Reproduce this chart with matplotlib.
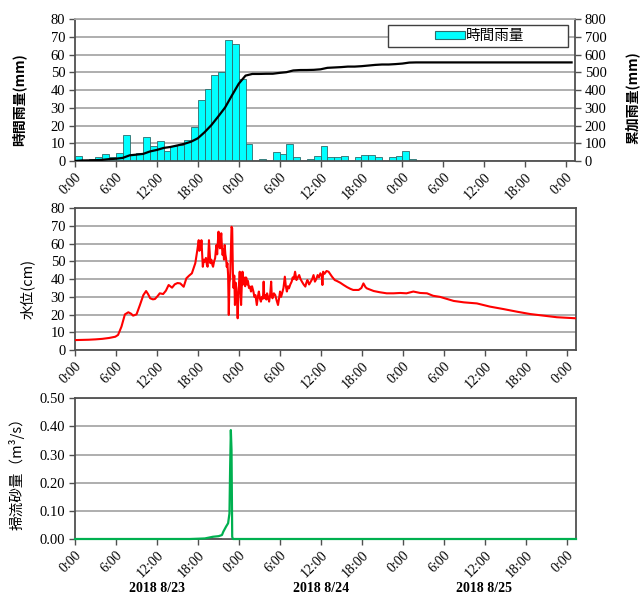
import numpy as np
import matplotlib
matplotlib.use("Agg")
import matplotlib.pyplot as plt
from matplotlib.patches import Rectangle, Patch

# ---- hourly rainfall (mm), one value per hour starting 2018-08-23 0:00 ----
rain_hourly = [3.0, 0.5, 1.0, 2.0, 4.0, 2.5, 4.5, 14.5, 4.0, 4.3,
               13.7, 8.5, 11.3, 5.5, 8.5, 9.0, 11.9, 19.4, 34.4, 40.5,
               48.4, 50.4, 68.1, 66.1, 46.1, 9.4, 0.0, 1.0, 0.2, 4.9,
               3.8, 9.8, 2.3, 0.2, 1.0, 3.0, 8.3, 2.0, 2.0, 3.0,
               0.0, 2.3, 3.6, 3.6, 2.3, 0.0, 2.3, 3.0, 5.5, 1.0]
cum_end_hour = 72.8

# ---- water level (cm), hours from 2018-08-23 0:00 ----
level_t = [0.0, 1.0, 2.0, 3.0, 4.0, 5.0, 5.9, 6.3, 6.8, 7.3, 7.8, 8.2, 8.5, 9.0, 9.5,
           10.0, 10.4, 10.7, 11.0, 11.4, 11.7, 12.1, 12.4, 12.9, 13.3, 13.7, 14.2, 14.6,
           15.0, 15.4, 15.9, 16.3, 16.7, 17.1, 17.6, 17.9,
           18.1, 18.2, 18.3, 18.4, 18.5, 18.6, 18.7, 18.85, 19.0, 19.15, 19.3, 19.4,
           19.5, 19.6, 19.7, 19.8, 19.95, 20.1, 20.2, 20.35, 20.5, 20.6, 20.7, 20.8,
           20.9, 21.0, 21.1, 21.2, 21.3, 21.4, 21.5, 21.6, 21.7, 21.8, 21.9, 22.0,
           22.1, 22.2, 22.3, 22.4, 22.5, 22.6, 22.7, 22.8, 22.9, 23.0, 23.1, 23.2,
           23.3, 23.4, 23.5, 23.6, 23.7, 23.8, 23.9, 24.0, 24.1, 24.2, 24.3, 24.4,
           24.5, 24.6, 24.7, 24.8, 24.9, 25.0, 25.1, 25.2, 25.3, 25.45, 25.6, 25.75,
           25.9, 26.1, 26.25, 26.4, 26.6, 26.75, 26.9, 27.05, 27.2, 27.35, 27.5, 27.6,
           27.7, 27.85, 28.0, 28.1, 28.25, 28.4, 28.55, 28.7, 28.8, 28.9, 29.1, 29.3,
           29.5, 29.7, 29.85, 30.0, 30.15, 30.3, 30.5, 30.7, 30.85, 31.0, 31.15, 31.3,
           31.5, 31.7, 31.85, 32.0, 32.2, 32.4, 32.6, 32.8, 33.0, 33.2, 33.45, 33.7,
           33.85, 34.0, 34.25, 34.5, 34.7, 34.9, 35.1, 35.3, 35.5, 35.7, 35.9, 36.1,
           36.2, 36.3, 36.5, 36.8, 37.1, 37.6, 38.0, 38.3, 38.8, 39.3, 39.8, 40.3,
           40.7, 41.5, 41.9, 42.2, 42.5, 42.7, 43.7, 44.6, 45.6, 46.6, 47.6, 48.5,
           49.5, 50.5, 51.5, 52.4, 53.4, 55.4, 56.9, 58.8, 60.7, 62.7, 64.7, 66.6,
           68.5, 70.5, 73.3]
level_cm = [5.6, 5.7, 5.8, 6.0, 6.3, 6.8, 7.5, 8.5, 13.2, 20.1, 21.3, 20.5, 19.4, 20.1, 25.4,
            31.0, 33.3, 31.5, 29.2, 28.6, 28.8, 30.5, 32.0, 31.6, 33.5, 36.7, 35.2, 37.1,
            37.8, 37.6, 35.7, 40.5, 42.0, 43.3, 49.0, 56.5,
            62.0, 56.0, 60.0, 56.5, 62.0, 55.0, 47.0, 51.0, 49.9, 52.0, 48.0, 47.0,
            53.0, 62.0, 55.0, 49.0, 51.0, 48.0, 47.0, 50.0, 51.8, 56.0, 59.3, 54.0,
            61.0, 66.8, 60.0, 57.4, 62.0, 65.9, 58.0, 53.6, 57.0, 51.0, 59.3, 54.0,
            51.8, 47.0, 49.0, 42.3, 19.8, 38.0, 40.5, 55.0, 69.6, 68.7, 44.2, 35.0,
            42.0, 25.4, 38.0, 34.8, 28.0, 17.9, 30.0, 38.0, 44.2, 35.0, 25.4, 36.0,
            44.2, 37.0, 41.0, 38.6, 36.0, 41.0, 40.5, 37.0, 39.0, 35.0, 35.8, 33.0,
            36.0, 33.0, 30.0, 31.0, 25.4, 30.0, 33.0, 29.0, 27.3, 30.0, 29.0, 38.6,
            29.2, 31.0, 28.5, 32.0, 30.0, 27.3, 31.0, 38.6, 30.0, 29.2, 32.0, 31.0,
            28.0, 25.4, 29.0, 33.0, 30.0, 32.0, 35.0, 41.4, 36.0, 33.0, 36.0, 34.8,
            37.0, 38.6, 41.0, 40.0, 44.2, 39.5, 41.0, 42.3, 40.0, 38.6, 37.0, 35.8,
            38.0, 39.5, 37.0, 38.6, 40.0, 42.3, 38.6, 40.0, 42.3, 41.0, 43.3, 42.0,
            36.7, 44.2, 43.0, 44.6, 44.2, 41.4, 39.5, 39.0, 38.0, 36.7, 35.5, 34.5,
            33.9, 33.9, 35.0, 37.6, 35.5, 34.8, 33.3, 32.6, 32.0, 32.0, 32.2, 32.0,
            33.0, 32.2, 32.0, 30.6, 30.0, 27.7, 26.9, 26.3, 24.5, 23.1, 21.6, 20.3,
            19.4, 18.5, 17.9]

# ---- bed-load discharge (m3/s) ----
sed_t = [0.0, 16.8, 18.0, 19.0, 20.2, 21.0, 21.5, 21.7, 22.1, 22.4, 22.6, 22.7,
         22.8, 22.9, 23.0, 23.1, 73.3]
sed_q = [0.0, 0.0, 0.001, 0.002, 0.008, 0.010, 0.014, 0.026, 0.044, 0.056, 0.091,
         0.257, 0.387, 0.316, 0.008, 0.0, 0.0]
sed_zero_t = [21.7, 23.1]
sed_zero_q = [0.0, 0.0]

tick_hours = list(range(0, 73, 6))
tick_labels = ["0:00", "6:00", "12:00", "18:00"] * 3 + ["0:00"]
day_labels = ["2018 8/23", "2018 8/24", "2018 8/25"]
day_centers = [12, 36, 60]

XMAX = 73.3
JP = ["Noto Sans CJK JP", "DejaVu Sans"]
SERIF = "Liberation Serif"
DARK = "#505050"
GRID = "#A8A8A8"

plt.rcParams["font.family"] = ["Liberation Serif", "DejaVu Sans"]

fig = plt.figure(figsize=(6.43, 5.94), dpi=100)
W, H = 643.0, 594.0


def axes_px(left, top, right, bottom):
    return fig.add_axes([left / W, 1 - bottom / H, (right - left) / W, (bottom - top) / H])


def style_axis(ax, ymax, ystep, fmt, top_dark=True):
    ax.set_xlim(0, XMAX)
    ax.set_ylim(0, ymax)
    ax.set_yticks(np.arange(0, ymax + ystep / 2, ystep))
    ax.set_yticklabels([fmt.format(v) for v in np.arange(0, ymax + ystep / 2, ystep)],
                       fontsize=10.5, family=SERIF)
    ax.set_xticks(tick_hours)
    ax.set_xticklabels(tick_labels, rotation=45, ha="right", va="top",
                       rotation_mode="anchor", fontsize=10, family=SERIF)
    ax.tick_params(axis="both", direction="out", length=4, width=1.0, color=DARK)
    ax.tick_params(axis="y", pad=3)
    ax.tick_params(axis="x", pad=3)
    ax.grid(axis="y", color=GRID, linewidth=1.3)
    ax.set_axisbelow(True)
    for side in ["left", "bottom", "right"]:
        ax.spines[side].set_color(DARK)
        ax.spines[side].set_linewidth(1.3)
    ax.spines["top"].set_color(DARK if top_dark else GRID)
    ax.spines["top"].set_linewidth(1.3)


# ---------------- rainfall panel ----------------
ax1 = axes_px(75, 19.3, 575, 161)
style_axis(ax1, 80, 10, "{:.0f}", top_dark=False)
hours = np.arange(len(rain_hourly))
ax1.bar(hours, rain_hourly, width=1.0, align="edge", color="#00FFFF",
        edgecolor="#2E6B6B", linewidth=0.6, zorder=2)
ax1.set_ylabel("時間雨量(mm)", family=JP, fontsize=10, fontweight="bold")
ax1.yaxis.set_label_coords(-0.098, 0.43)

ax1r = ax1.twinx()
cum_t = np.append(np.arange(len(rain_hourly) + 1), cum_end_hour)
cum_v = np.concatenate([[0.0], np.cumsum(rain_hourly)])
cum_v = np.append(cum_v, cum_v[-1])
ax1r.plot(cum_t, cum_v, color="black", linewidth=1.6, zorder=3)
ax1r.set_xlim(0, XMAX)
ax1r.set_ylim(0, 800)
ax1r.set_yticks(np.arange(0, 801, 100))
ax1r.set_yticklabels([str(v) for v in range(0, 801, 100)], fontsize=10.5, family=SERIF)
ax1r.tick_params(axis="y", direction="out", length=4, width=1.0, color=DARK, pad=3)
for s in ax1r.spines.values():
    s.set_visible(False)
ax1r.set_ylabel("累加雨量(mm)", family=JP, fontsize=10, fontweight="bold")
ax1r.yaxis.set_label_coords(1.1, 0.45)

# legend box
ax1r.add_patch(Rectangle((0.626, 0.805), 0.36, 0.155, transform=ax1r.transAxes,
                         facecolor="white", edgecolor="#404040", linewidth=1.0, zorder=5))
handle = Patch(facecolor="#00FFFF", edgecolor="#2E6B6B", linewidth=0.8)
leg = ax1r.legend([handle], ["時間雨量"], loc="center", bbox_to_anchor=(0.81, 0.882),
                  frameon=False, prop={"family": JP, "size": 10.5},
                  handlelength=2.0, handleheight=0.45, handletextpad=0.1,
                  borderpad=0.1)
leg.set_zorder(6)

# ---------------- water level panel ----------------
ax2 = axes_px(75, 208.3, 576, 350)
style_axis(ax2, 80, 10, "{:.0f}")
ax2.plot(level_t, level_cm, color="#FF0000", linewidth=1.5, zorder=3)
ax2.set_ylabel("水位(cm)", family=JP, fontsize=10.5)
ax2.yaxis.set_label_coords(-0.08, 0.43)

# ---------------- bed-load panel ----------------
ax3 = axes_px(75, 398.3, 576, 539)
style_axis(ax3, 0.5, 0.1, "{:.2f}")
ax3.plot(sed_zero_t, sed_zero_q, color="#707070", linewidth=2.0, zorder=3)
ax3.plot(sed_t, sed_q, color="#00B050", linewidth=1.6, zorder=4, clip_on=False)
ax3.set_ylabel("掃流砂量（m³/s）", family=JP, fontsize=10.5)
ax3.yaxis.set_label_coords(-0.1, 0.49)

for lbl, c in zip(day_labels, day_centers):
    x_fig = (75 + c * (500.0 / XMAX)) / W
    fig.text(x_fig, 1 - 588 / H, lbl, ha="center", va="center",
             fontsize=10, fontweight="bold", family=SERIF)

fig.savefig("out.png", dpi=100, facecolor="white")
